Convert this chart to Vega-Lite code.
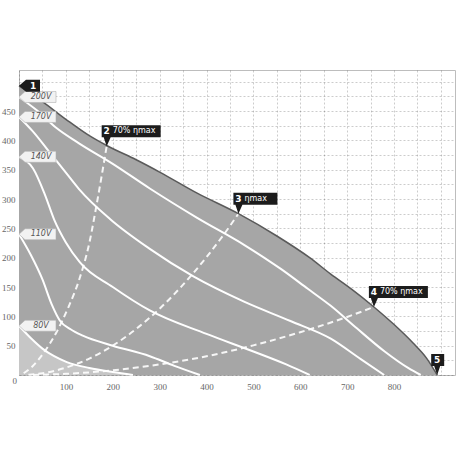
{
  "$schema": "https://vega.github.io/schema/vega-lite/v6.json",
  "width": 436,
  "height": 305,
  "autosize": {"type": "none"},
  "padding": {"left": 19, "top": 70, "right": 3, "bottom": 83},
  "background": "white",
  "config": {
    "view": {"stroke": "#bdbdbd", "strokeWidth": 1},
    "axis": {"labelFont": "Liberation Serif", "labelFontSize": 9, "labelColor": "#666", "domain": false, "ticks": false, "gridColor": "rgba(0,0,0,0.2)", "gridDash": [2, 2], "gridWidth": 1, "zindex": 1, "title": null}
  },
  "datasets": {
    "curves": [
      {"s": "max", "q": 0, "p": 493}, {"s": "max", "q": 50, "p": 466}, {"s": "max", "q": 100, "p": 436}, {"s": "max", "q": 150, "p": 408}, {"s": "max", "q": 190, "p": 390}, {"s": "max", "q": 250, "p": 367}, {"s": "max", "q": 300, "p": 346}, {"s": "max", "q": 380, "p": 310}, {"s": "max", "q": 468, "p": 275}, {"s": "max", "q": 550, "p": 237}, {"s": "max", "q": 620, "p": 200}, {"s": "max", "q": 665, "p": 172}, {"s": "max", "q": 710, "p": 146}, {"s": "max", "q": 757, "p": 116}, {"s": "max", "q": 800, "p": 86}, {"s": "max", "q": 840, "p": 55}, {"s": "max", "q": 870, "p": 28}, {"s": "max", "q": 892, "p": 0},
      {"s": "200V", "q": 0, "p": 474}, {"s": "200V", "q": 40, "p": 450}, {"s": "200V", "q": 80, "p": 421}, {"s": "200V", "q": 128, "p": 395}, {"s": "200V", "q": 200, "p": 360}, {"s": "200V", "q": 279, "p": 318}, {"s": "200V", "q": 380, "p": 268}, {"s": "200V", "q": 480, "p": 222}, {"s": "200V", "q": 560, "p": 180}, {"s": "200V", "q": 616, "p": 147}, {"s": "200V", "q": 665, "p": 118}, {"s": "200V", "q": 720, "p": 80}, {"s": "200V", "q": 780, "p": 40}, {"s": "200V", "q": 830, "p": 12}, {"s": "200V", "q": 857, "p": 0},
      {"s": "170V", "q": 0, "p": 440}, {"s": "170V", "q": 30, "p": 415}, {"s": "170V", "q": 65, "p": 380}, {"s": "170V", "q": 100, "p": 345}, {"s": "170V", "q": 128, "p": 317}, {"s": "170V", "q": 194, "p": 266}, {"s": "170V", "q": 279, "p": 215}, {"s": "170V", "q": 372, "p": 168}, {"s": "170V", "q": 480, "p": 125}, {"s": "170V", "q": 579, "p": 92}, {"s": "170V", "q": 665, "p": 62}, {"s": "170V", "q": 729, "p": 27}, {"s": "170V", "q": 779, "p": 0},
      {"s": "140V", "q": 0, "p": 372}, {"s": "140V", "q": 30, "p": 352}, {"s": "140V", "q": 55, "p": 308}, {"s": "140V", "q": 75, "p": 265}, {"s": "140V", "q": 100, "p": 226}, {"s": "140V", "q": 130, "p": 192}, {"s": "140V", "q": 200, "p": 150}, {"s": "140V", "q": 279, "p": 110}, {"s": "140V", "q": 400, "p": 70}, {"s": "140V", "q": 500, "p": 40}, {"s": "140V", "q": 570, "p": 18}, {"s": "140V", "q": 620, "p": 0},
      {"s": "110V", "q": 0, "p": 240}, {"s": "110V", "q": 25, "p": 205}, {"s": "110V", "q": 50, "p": 163}, {"s": "110V", "q": 70, "p": 120}, {"s": "110V", "q": 87, "p": 93}, {"s": "110V", "q": 110, "p": 78}, {"s": "110V", "q": 136, "p": 67}, {"s": "110V", "q": 200, "p": 50}, {"s": "110V", "q": 279, "p": 32}, {"s": "110V", "q": 330, "p": 16}, {"s": "110V", "q": 386, "p": 0},
      {"s": "80V", "q": 0, "p": 84}, {"s": "80V", "q": 25, "p": 63}, {"s": "80V", "q": 50, "p": 45}, {"s": "80V", "q": 75, "p": 32}, {"s": "80V", "q": 102, "p": 22}, {"s": "80V", "q": 150, "p": 12}, {"s": "80V", "q": 200, "p": 5}, {"s": "80V", "q": 243, "p": 0}
    ],
    "dashed": [
      {"s": "d2", "q": 10, "p": 3}, {"s": "d2", "q": 29, "p": 15}, {"s": "d2", "q": 50, "p": 35}, {"s": "d2", "q": 80, "p": 73}, {"s": "d2", "q": 105, "p": 115}, {"s": "d2", "q": 129, "p": 164}, {"s": "d2", "q": 150, "p": 225}, {"s": "d2", "q": 165, "p": 288}, {"s": "d2", "q": 187, "p": 390},
      {"s": "d3", "q": 20, "p": 0.5}, {"s": "d3", "q": 50, "p": 3}, {"s": "d3", "q": 100, "p": 12.6}, {"s": "d3", "q": 150, "p": 28}, {"s": "d3", "q": 200, "p": 50}, {"s": "d3", "q": 250, "p": 78.5}, {"s": "d3", "q": 300, "p": 113}, {"s": "d3", "q": 350, "p": 154}, {"s": "d3", "q": 400, "p": 201}, {"s": "d3", "q": 440, "p": 243}, {"s": "d3", "q": 468, "p": 275},
      {"s": "d4", "q": 30, "p": 0.2}, {"s": "d4", "q": 100, "p": 2}, {"s": "d4", "q": 200, "p": 8}, {"s": "d4", "q": 300, "p": 18}, {"s": "d4", "q": 400, "p": 32}, {"s": "d4", "q": 500, "p": 50.5}, {"s": "d4", "q": 600, "p": 73}, {"s": "d4", "q": 700, "p": 99}, {"s": "d4", "q": 757, "p": 116}
    ],
    "vlabels": [
      {"v": "200V", "q": 0, "p": 474}, {"v": "170V", "q": 0, "p": 440}, {"v": "140V", "q": 0, "p": 372}, {"v": "110V", "q": 0, "p": 240}, {"v": "80V", "q": 0, "p": 84}
    ],
    "callouts": [
      {"n": "1", "kind": "left", "txt": "", "q": 0, "p": 493},
      {"n": "2", "kind": "wide", "txt": "70% ηmax", "q": 187, "p": 390},
      {"n": "3", "kind": "mid", "txt": "ηmax", "q": 468, "p": 275},
      {"n": "4", "kind": "wide", "txt": "70% ηmax", "q": 757, "p": 116},
      {"n": "5", "kind": "small", "txt": "", "q": 892, "p": 0}
    ]
  },
  "encoding": {
    "x": {"field": "q", "type": "quantitative", "scale": {"domain": [0, 930], "nice": false, "zero": true},
      "axis": {"values": [0, 50, 100, 150, 200, 250, 300, 350, 400, 450, 500, 550, 600, 650, 700, 750, 800, 850, 900],
        "labelExpr": "datum.value % 100 == 0 && datum.value <= 800 ? datum.label : ''",
        "labelOffset": {"condition": {"test": "datum.value == 0", "value": -7}, "value": 0},
        "labelPadding": {"condition": {"test": "datum.value == 0", "value": 1}, "value": 7}}},
    "y": {"field": "p", "type": "quantitative", "scale": {"domain": [0, 520], "nice": false},
      "axis": {"values": [0, 25, 50, 75, 100, 125, 150, 175, 200, 225, 250, 275, 300, 325, 350, 375, 400, 425, 450, 475, 500],
        "labelExpr": "datum.value % 50 == 0 && datum.value > 0 && datum.value < 500 ? datum.label : ''",
        "labelPadding": 4}}
  },
  "layer": [
    {"data": {"name": "curves"}, "transform": [{"filter": "datum.s == 'max'"}],
      "mark": {"type": "area", "color": "#a6a6a6", "interpolate": "monotone"}},
    {"data": {"name": "curves"}, "transform": [{"filter": "datum.s == '80V'"}],
      "mark": {"type": "area", "color": "#c6c6c6", "interpolate": "monotone"}},
    {"data": {"name": "curves"}, "transform": [{"filter": "datum.s != 'max'"}],
      "mark": {"type": "line", "stroke": "white", "strokeWidth": 2, "interpolate": "monotone"},
      "encoding": {"detail": {"field": "s"}}},
    {"data": {"name": "dashed"},
      "mark": {"type": "line", "stroke": "white", "strokeWidth": 2, "strokeDash": [6, 4], "interpolate": "monotone", "opacity": 0.9},
      "encoding": {"detail": {"field": "s"}}},
    {"data": {"name": "curves"}, "transform": [{"filter": "datum.s == 'max'"}],
      "mark": {"type": "line", "stroke": "#5a5a5a", "strokeWidth": 1.5, "interpolate": "monotone"}},
    {"data": {"name": "vlabels"},
      "mark": {"type": "point", "shape": "M0,0 L6,-5.5 L37,-5.5 L37,5.5 L6,5.5 Z", "size": 4, "filled": true, "fill": "#f2f2f2", "stroke": "#b0b0b0", "strokeWidth": 0.6, "opacity": 1}},
    {"data": {"name": "vlabels"},
      "mark": {"type": "text", "dx": 22, "align": "center", "baseline": "middle", "font": "DejaVu Sans", "fontStyle": "italic", "fontSize": 8, "fill": "#555"},
      "encoding": {"text": {"field": "v"}}},
    {"data": {"name": "callouts"},
      "mark": {"type": "point", "size": 4, "filled": true, "fill": "#1c1c1c", "opacity": 1, "strokeWidth": 0},
      "encoding": {"shape": {"field": "kind", "type": "nominal", "legend": null,
        "scale": {"domain": ["left", "wide", "mid", "small"],
          "range": ["M0,0 L7,-6 L21,-6 L21,6 L7,6 Z", "M0,0 L-3,-9 L-5,-9 L-5,-21 L54,-21 L54,-9 L4,-9 Z", "M0,0 L-3,-9 L-5,-9 L-5,-21 L39,-21 L39,-9 L4,-9 Z", "M0,0 L-3,-9 L-6,-9 L-6,-21 L7,-21 L7,-9 L3,-9 Z"]}}}},
    {"data": {"name": "callouts"}, "transform": [{"filter": "datum.kind == 'left'"}],
      "mark": {"type": "text", "dx": 14, "align": "center", "baseline": "middle", "font": "DejaVu Sans", "fontWeight": "bold", "fontSize": 9, "fill": "white"},
      "encoding": {"text": {"field": "n"}}},
    {"data": {"name": "callouts"}, "transform": [{"filter": "datum.kind != 'left'"}],
      "mark": {"type": "text", "dx": 0, "dy": -15, "align": "center", "baseline": "middle", "font": "DejaVu Sans", "fontWeight": "bold", "fontSize": 9, "fill": "white"},
      "encoding": {"text": {"field": "n"}}},
    {"data": {"name": "callouts"}, "transform": [{"filter": "datum.txt != ''"}],
      "mark": {"type": "text", "dx": 6, "dy": -15, "align": "left", "baseline": "middle", "font": "DejaVu Sans", "fontSize": 8, "fill": "white"},
      "encoding": {"text": {"field": "txt"}}}
  ]
}
